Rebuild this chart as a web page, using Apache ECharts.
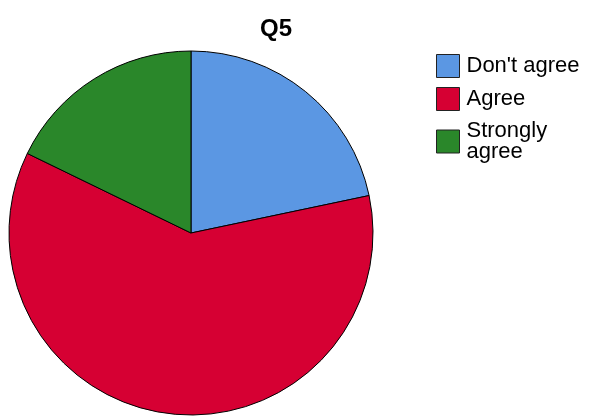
<!DOCTYPE html>
<html>
<head>
<meta charset="utf-8">
<script src="https://cdn.jsdelivr.net/npm/echarts@6/dist/echarts.min.js"></script>
<style>
  html, body { margin: 0; padding: 0; background: #fff; }
  #myChart { width: 589px; height: 417px; }
</style>
</head>
<body>
<div id="myChart"></div>
<script>
// Q5 answers, percent of respondents
const categories = ["Don't agree", 'Agree', 'Strongly\nagree']
const shares = [21.7, 60.5, 17.8]
const colors = ['#5b97e3', '#d60033', '#2a872a']

const chart = echarts.init(document.getElementById('myChart'))

chart.setOption({
  animation: false,
  title: {
    text: 'Q5',
    left: 255,
    top: 12,
    textStyle: {
      fontFamily: 'Liberation Sans, Arial',
      fontSize: 24,
      fontWeight: 'bold',
      color: '#000'
    }
  },
  legend: {
    orient: 'vertical',
    left: 436,
    top: 54,
    padding: 0,
    itemWidth: 23,
    itemHeight: 23,
    itemGap: 9,
    icon: 'rect',
    itemStyle: {
      borderColor: '#222',
      borderWidth: 1
    },
    textStyle: {
      fontFamily: 'Liberation Sans, Arial',
      fontSize: 22,
      lineHeight: 21,
      color: '#000',
      padding: [0, 0, 0, 2]
    },
    data: categories
  },
  series: [{
    type: 'pie',
    center: [191, 233],
    radius: 182,
    startAngle: 90,
    clockwise: true,
    label: { show: false },
    labelLine: { show: false },
    emphasis: { disabled: true },
    itemStyle: {
      borderColor: '#000',
      borderWidth: 1
    },
    data: categories.map((name, i) => ({
      name: name,
      value: shares[i],
      itemStyle: { color: colors[i] }
    }))
  }]
})
</script>
</body>
</html>
